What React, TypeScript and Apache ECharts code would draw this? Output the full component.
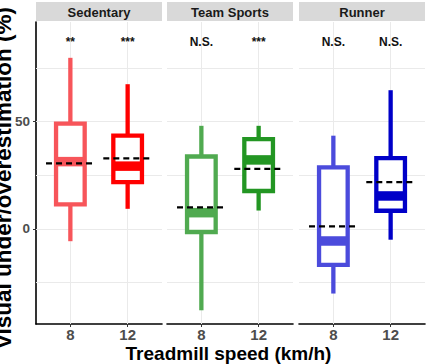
import React, { useEffect, useRef } from "react";
import * as echarts from "echarts";

// Groups (facets) and treadmill speeds
const groups = ["Sedentary", "Team Sports", "Runner"];
const speeds = ["8", "12"];

// Box-and-whisker statistics per group, one value per speed (%)
const whiskerLow = [[-5.8, 9.3], [-38, 8.5], [-30.2, -5.1]];
const quartile1 = [[11.4, 21.7], [-1.5, 17.6], [-16.8, 8.4]];
const medians = [[31.3, 29.2], [7.5, 32.1], [-5.7, 15.3]];
const quartile3 = [[49, 43.4], [33.7, 41.8], [28.6, 32.9]];
const whiskerHigh = [[79.7, 67.4], [48, 48], [43.4, 64.6]];
const means = [[30.5, 32.8], [10, 27.9], [1.1, 21.7]];

// Significance annotations
const sigLabels = [["**", "***"], ["N.S.", "***"], ["N.S.", "N.S."]];
const SIG_Y = 87;

// Y axis labelled values and grid values
const yLabelValues = [0, 50];
const yGridValues = [-25, 0, 25, 50, 75];

const boxColors = [
  ["#F7555A", "#FF0000"],
  ["#50AA50", "#239623"],
  ["#4B4BDC", "#0000C8"],
];

const FONT = "'Liberation Sans', Arial, Helvetica, sans-serif";
const PANEL_LEFT = [36, 167, 299];
const PANEL_W = 126;
const PANEL_TOP = 22;
const PANEL_BOTTOM = 40;
const Y_MIN = -44.4;
const Y_MAX = 96.4;
const X_MIN = 0.4;
const X_MAX = 2.6;

export default function App() {
  const ref = useRef<HTMLDivElement>(null);

  useEffect(() => {
    document.body.style.margin = "0";
    if (!ref.current) return;
    const chart = echarts.init(ref.current, null, { renderer: "svg" });

    const grid = groups.map((_, i) => ({
      left: PANEL_LEFT[i],
      top: PANEL_TOP,
      width: PANEL_W,
      bottom: PANEL_BOTTOM,
      containLabel: false,
    }));

    const xAxis = groups.map((_, i) => ({
      type: "value",
      gridIndex: i,
      min: X_MIN,
      max: X_MAX,
      splitLine: { show: false },
      axisLine: { show: true, onZero: false, lineStyle: { color: "#000", width: 1.6 } },
      axisTick: { show: true, length: 3, customValues: [1, 2], lineStyle: { color: "#333" } },
      axisLabel: {
        customValues: [1, 2],
        formatter: (v: number) => speeds[Math.round(v) - 1] ?? "",
        color: "#4D4D4D",
        fontWeight: "bold",
        fontSize: 15,
        fontFamily: FONT,
        margin: 3,
      },
    }));

    const yAxis = groups.map((_, i) => ({
      type: "value",
      gridIndex: i,
      min: Y_MIN,
      max: Y_MAX,
      splitLine: { show: false },
      axisLine: { show: i === 0, onZero: false, lineStyle: { color: "#000", width: 1.6 } },
      axisTick: { show: i === 0, length: 3, customValues: yLabelValues, lineStyle: { color: "#333" } },
      axisLabel: {
        show: i === 0,
        customValues: yLabelValues,
        color: "#4D4D4D",
        fontWeight: "bold",
        fontSize: 13.5,
        fontFamily: FONT,
        margin: 6,
      },
    }));

    const series: any[] = [];
    groups.forEach((_, p) => {
      // background grid lines
      series.push({
        type: "line",
        xAxisIndex: p,
        yAxisIndex: p,
        data: [],
        z: 1,
        silent: true,
        markLine: {
          z: 1,
          silent: true,
          symbol: ["none", "none"],
          label: { show: false },
          lineStyle: { color: "#EAEAEA", width: 1, type: "solid" },
          data: [
            ...yGridValues.map((v) => ({ yAxis: v })),
            ...speeds.map((_, k) => ({ xAxis: k + 1 })),
          ],
        },
      });

      const data = speeds.map((_, k) => [
        k + 1,
        whiskerLow[p][k],
        quartile1[p][k],
        medians[p][k],
        quartile3[p][k],
        whiskerHigh[p][k],
        means[p][k],
      ]);

      series.push({
        type: "custom",
        xAxisIndex: p,
        yAxisIndex: p,
        z: 3,
        silent: true,
        data,
        renderItem: (params: any, api: any) => {
          const x = api.value(0);
          const k = params.dataIndex;
          const color = boxColors[p][k];
          const cx = api.coord([x, 0])[0];
          const yv = (v: number) => api.coord([x, v])[1];
          const yLo = yv(api.value(1));
          const yQ1 = yv(api.value(2));
          const yMed = yv(api.value(3));
          const yQ3 = yv(api.value(4));
          const yHi = yv(api.value(5));
          const yMean = yv(api.value(6));
          const bw = api.size([0.5, 0])[0];
          const mw = api.size([0.85, 0])[0];
          const lw = 4.3;
          return {
            type: "group",
            children: [
              { type: "line", shape: { x1: cx, y1: yQ3, x2: cx, y2: yHi }, style: { stroke: color, lineWidth: lw } },
              { type: "line", shape: { x1: cx, y1: yQ1, x2: cx, y2: yLo }, style: { stroke: color, lineWidth: lw } },
              {
                type: "rect",
                shape: { x: cx - bw / 2, y: yQ3, width: bw, height: yQ1 - yQ3 },
                style: { fill: "#fff", stroke: color, lineWidth: lw },
              },
              {
                type: "line",
                shape: { x1: cx - bw / 2, y1: yMed, x2: cx + bw / 2, y2: yMed },
                style: { stroke: color, lineWidth: 9.5 },
              },
              {
                type: "line",
                shape: { x1: cx - mw / 2, y1: yMean, x2: cx + mw / 2, y2: yMean },
                style: { stroke: "#000", lineWidth: 2.2, lineDash: [6, 4] },
              },
              {
                type: "text",
                x: cx,
                y: yv(SIG_Y),
                style: {
                  text: sigLabels[p][k],
                  fill: "#111",
                  font: `bold 12px ${FONT}`,
                  align: "center",
                  verticalAlign: "middle",
                },
              },
            ],
          };
        },
      });
    });

    const graphic: any[] = [];
    groups.forEach((g, p) => {
      graphic.push({
        type: "rect",
        shape: { x: PANEL_LEFT[p], y: 2, width: PANEL_W, height: 19 },
        style: { fill: "#D9D9D9" },
        silent: true,
      });
      graphic.push({
        type: "text",
        x: PANEL_LEFT[p] + PANEL_W / 2,
        y: 12,
        style: {
          text: g,
          fill: "#1A1A1A",
          font: `bold 13px ${FONT}`,
          align: "center",
          verticalAlign: "middle",
        },
        silent: true,
      });
    });
    graphic.push({
      type: "text",
      x: 3.5,
      y: 178,
      rotation: Math.PI / 2,
      style: {
        text: "Visual under/overestimation (%)",
        fill: "#000",
        font: `bold 22.5px ${FONT}`,
        align: "center",
        verticalAlign: "middle",
      },
      silent: true,
    });
    graphic.push({
      type: "text",
      x: 228.5,
      y: 353.5,
      style: {
        text: "Treadmill speed (km/h)",
        fill: "#000",
        font: `bold 19px ${FONT}`,
        align: "center",
        verticalAlign: "middle",
      },
      silent: true,
    });

    chart.setOption({
      animation: false,
      backgroundColor: "#fff",
      grid,
      xAxis,
      yAxis,
      series,
      graphic,
    });

    return () => chart.dispose();
  }, []);

  return <div ref={ref} style={{ width: 427, height: 364 }} />;
}
